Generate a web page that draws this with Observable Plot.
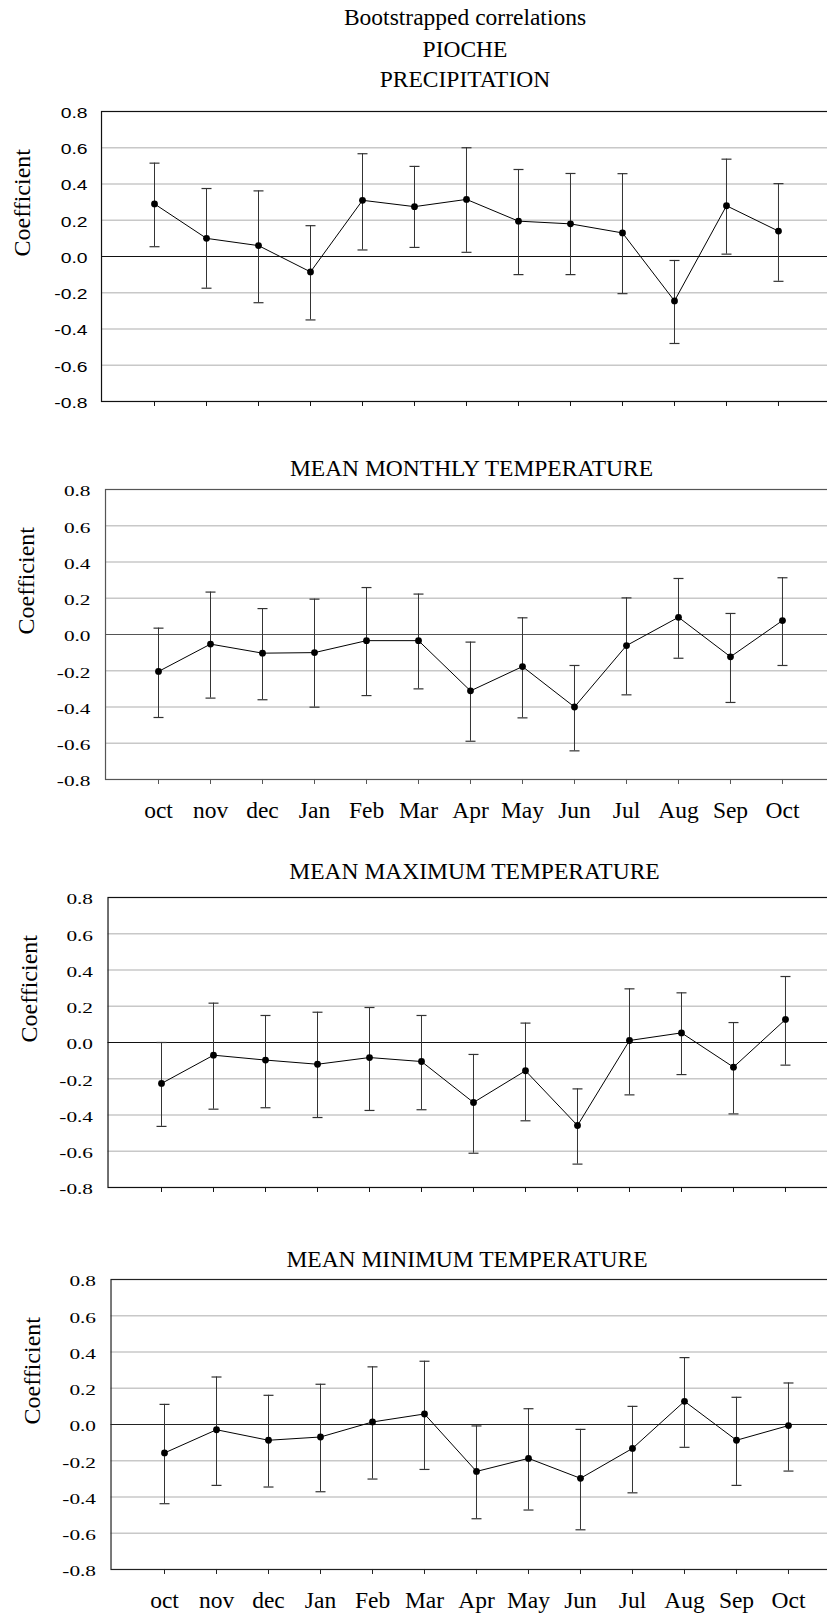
<!DOCTYPE html>
<html>
<head>
<meta charset="utf-8">
<script src="https://cdn.jsdelivr.net/npm/d3@7"></script>
<script src="https://cdn.jsdelivr.net/npm/@observablehq/plot@0.6"></script>
<style>
  html, body { margin: 0; padding: 0; background: #fff; overflow: hidden; }
  #page { position: relative; width: 827px; height: 1614px; overflow: hidden; background: #fff; }
  .title {
    position: absolute; white-space: nowrap; line-height: 1; color: #000;
    font-family: "Liberation Serif", "Times New Roman", serif; font-size: 23.5px;
    transform: translateX(-50%);
  }
  .panel { position: absolute; left: 0; max-width: none !important; }
</style>
</head>
<body>
<div id="page"></div>
<script>
// Months of the response window (previous October through current October)
const months = ["oct", "nov", "dec", "Jan", "Feb", "Mar", "Apr", "May", "Jun", "Jul", "Aug", "Sep", "Oct"];
const yTicks = [-0.8, -0.6, -0.4, -0.2, 0, 0.2, 0.4, 0.6, 0.8];
const gridValues = [-0.6, -0.4, -0.2, 0.2, 0.4, 0.6];

// Precipitation: correlation and bootstrap confidence limits
const precipCoef = [0.29, 0.10, 0.06, -0.085, 0.31, 0.275, 0.315, 0.195, 0.18, 0.13, -0.245, 0.28, 0.14];
const precipLow  = [0.054, -0.175, -0.255, -0.35, 0.036, 0.05, 0.023, -0.10, -0.10, -0.205, -0.48, 0.013, -0.137];
const precipHigh = [0.515, 0.375, 0.362, 0.17, 0.567, 0.497, 0.60, 0.48, 0.458, 0.457, -0.022, 0.537, 0.402];

// Mean monthly temperature
const meanCoef = [-0.204, -0.053, -0.103, -0.10, -0.034, -0.034, -0.311, -0.177, -0.40, -0.061, 0.095, -0.123, 0.077];
const meanLow  = [-0.458, -0.351, -0.36, -0.401, -0.337, -0.30, -0.589, -0.46, -0.642, -0.333, -0.131, -0.375, -0.171];
const meanHigh = [0.035, 0.234, 0.143, 0.195, 0.259, 0.223, -0.042, 0.092, -0.171, 0.202, 0.309, 0.116, 0.313];

// Mean maximum temperature
const maxCoef = [-0.226, -0.07, -0.097, -0.12, -0.083, -0.105, -0.331, -0.156, -0.458, 0.011, 0.053, -0.136, 0.127];
const maxLow  = [-0.463, -0.368, -0.36, -0.414, -0.375, -0.371, -0.611, -0.432, -0.671, -0.289, -0.177, -0.394, -0.125];
const maxHigh = [0.0, 0.217, 0.149, 0.167, 0.193, 0.149, -0.066, 0.107, -0.256, 0.296, 0.274, 0.11, 0.364];

// Mean minimum temperature
const minCoef = [-0.157, -0.029, -0.087, -0.069, 0.014, 0.058, -0.259, -0.187, -0.297, -0.132, 0.128, -0.087, -0.006];
const minLow  = [-0.437, -0.336, -0.345, -0.371, -0.301, -0.248, -0.52, -0.472, -0.581, -0.377, -0.126, -0.336, -0.257];
const minHigh = [0.111, 0.262, 0.161, 0.222, 0.318, 0.349, -0.008, 0.087, -0.027, 0.10, 0.369, 0.15, 0.229];

const headerLines = ["Bootstrapped correlations", "PIOCHE"];
const panelTitles = ["PRECIPITATION", "MEAN MONTHLY TEMPERATURE", "MEAN MAXIMUM TEMPERATURE", "MEAN MINIMUM TEMPERATURE"];

const SERIF = '"Liberation Serif", "Times New Roman", serif';
const SANS = '"Liberation Sans", Arial, sans-serif';

const page = document.getElementById("page");

function addTitle(text, cx, baseline) {
  const div = document.createElement("div");
  div.className = "title";
  div.textContent = text;
  div.style.left = cx + "px";
  div.style.top = (baseline - 0.8375 * 23.5) + "px";
  page.appendChild(div);
}

addTitle(headerLines[0], 465, 26);
addTitle(headerLines[1], 465, 57.5);

// horizontal cap drawn at both ends of each confidence bar
const capSymbol = {
  draw(context) {
    context.moveTo(-5, 0);
    context.lineTo(5, 0);
  }
};

const panels = [
  {title: panelTitles[0], titleX: 465, titleBase: 88, coef: precipCoef, low: precipLow, high: precipHigh,
   left: 101, top: 111.3, axis: "#111", tickFamily: SANS, tickSize: 14, stretch: 1.38, tickPad: 14, labels: false},
  {title: panelTitles[1], titleX: 471.5, titleBase: 476.7, coef: meanCoef, low: meanLow, high: meanHigh,
   left: 105, top: 489, axis: "#555", tickFamily: SERIF, tickSize: 15, stretch: 1.42, tickPad: 15, labels: true},
  {title: panelTitles[2], titleX: 474.5, titleBase: 879.3, coef: maxCoef, low: maxLow, high: maxHigh,
   left: 107.5, top: 897.3, axis: "#111", tickFamily: SERIF, tickSize: 15, stretch: 1.42, tickPad: 15, labels: false},
  {title: panelTitles[3], titleX: 467, titleBase: 1267.3, coef: minCoef, low: minLow, high: minHigh,
   left: 110.5, top: 1279, axis: "#222", tickFamily: SERIF, tickSize: 15, stretch: 1.42, tickPad: 15, labels: true}
];

const STEP = 52.2;      // spacing between months
const PLOT_H = 290;     // height of the -0.8..0.8 frame
const MT = 20, MB = 52, MR = 4;

for (const p of panels) {
  addTitle(p.title, p.titleX, p.titleBase);

  const rows = months.map((m, i) => ({month: m, coef: p.coef[i], lo: p.low[i], hi: p.high[i]}));

  const chart = Plot.plot({
    width: p.left + 14 * STEP + MR,
    height: MT + PLOT_H + MB,
    marginLeft: p.left,
    marginRight: MR,
    marginTop: MT,
    marginBottom: MB,
    style: {fontFamily: SERIF, fontSize: "23.5px", background: "transparent", color: "#000", overflow: "visible", maxWidth: "none"},
    x: {type: "point", domain: months, padding: 1},
    y: {domain: [-0.8, 0.8]},
    marks: [
      Plot.ruleY(gridValues, {stroke: "#c8c8c8", strokeWidth: 1.3}),
      Plot.ruleY([0], {stroke: p.axis, strokeWidth: 1.2}),
      Plot.frame({stroke: p.axis, strokeWidth: 1.2}),
      Plot.axisY(yTicks, {
        tickSize: 0, tickPadding: p.tickPad, dy: 2,
        tickFormat: d => d.toFixed(1), label: null,
        fontFamily: p.tickFamily, fontSize: p.tickSize
      }),
      Plot.axisX({
        tickSize: 5, tickPadding: 17, label: null, stroke: p.axis,
        tickFormat: p.labels ? d => d : () => "",
        fontFamily: SERIF, fontSize: 23.5
      }),
      Plot.text(["Coefficient"], {
        text: d => d, frameAnchor: "left", rotate: -90, dx: -79,
        fontFamily: SERIF, fontSize: 24, fill: "#000", ariaLabel: "y-axis title"
      }),
      Plot.ruleX(rows, {x: "month", y1: "lo", y2: "hi", stroke: "#333", strokeWidth: 1}),
      Plot.dot(rows, {x: "month", y: "lo", symbol: capSymbol, r: 5, fill: "none", stroke: "#333", strokeWidth: 1.2}),
      Plot.dot(rows, {x: "month", y: "hi", symbol: capSymbol, r: 5, fill: "none", stroke: "#333", strokeWidth: 1.2}),
      Plot.line(rows, {x: "month", y: "coef", stroke: "#000", strokeWidth: 1}),
      Plot.dot(rows, {x: "month", y: "coef", r: 3.4, fill: "#000", stroke: "none"})
    ]
  });

  // y tick labels: set their face explicitly and widen them around the right-hand anchor
  chart.querySelectorAll('g[aria-label="y-axis tick label"] text').forEach(t => {
    t.style.fontFamily = p.tickFamily;
    t.style.fontSize = p.tickSize + "px";
    t.style.fontWeight = "normal";
    const tr = t.getAttribute("transform");
    if (tr) t.setAttribute("transform", `${tr} scale(${p.stretch},1)`);
  });
  chart.querySelectorAll('g[aria-label="y-axis title"] text').forEach(t => {
    t.style.fontFamily = SERIF;
    t.style.fontSize = "24px";
    t.style.fontWeight = "normal";
  });

  chart.classList.add("panel");
  chart.style.top = (p.top - MT) + "px";
  page.appendChild(chart);
}
</script>
</body>
</html>
